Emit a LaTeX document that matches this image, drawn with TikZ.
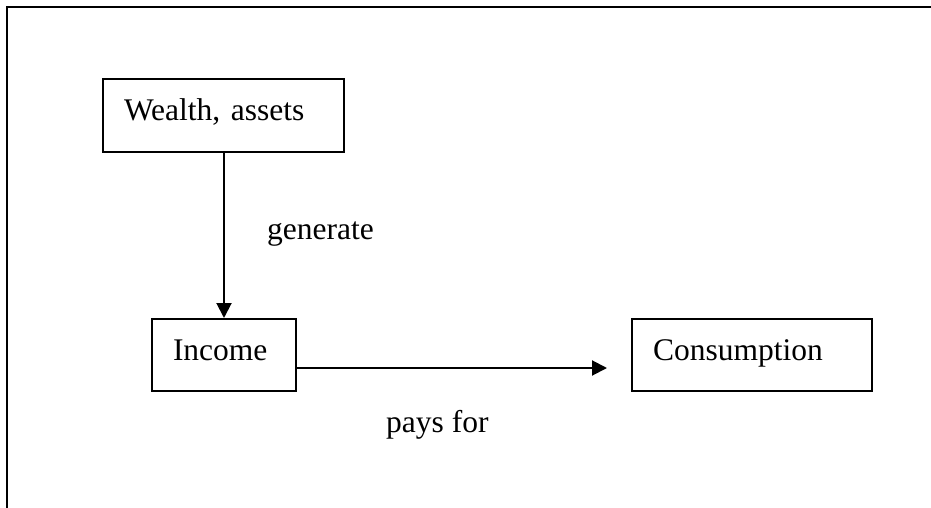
\documentclass[tikz,border=0pt]{standalone}
\usepackage{fontspec}
\setmainfont{Liberation Serif}
\usetikzlibrary{arrows.meta}
\begin{document}
\begin{tikzpicture}[x=1pt,y=-1pt,
  every node/.style={font=\fontsize{31.5}{38}\selectfont},
  box/.style={draw, line width=2pt, anchor=west, inner xsep=21pt, inner ysep=0pt,
    align=left, text height=22pt, text depth=12pt},
  lbl/.style={inner sep=0pt, anchor=base west},
  conn/.style={line width=2pt, -{Triangle[length=15pt,width=15pt]}}]
\useasboundingbox (0,0) rectangle (931,508);
% frame
\draw[line width=2pt] (7,508) -- (7,7) -- (931,7);
% boxes
\node[box, text width=199pt, minimum height=73pt] (wealth) at (102,115.5) {Wealth, assets};
\node[box, text width=102pt, minimum height=72pt] (income) at (151,355) {Income};
\node[box, text width=198pt, minimum height=72pt] (cons) at (631,355) {Consumption};
% labels
\node[lbl] (gen) at (267,239) {generate};
\node[lbl] (pays) at (386,432) {pays for};
% connectors
\coordinate (istart) at ([yshift=-13pt]income.east);
\coordinate (iend) at ([xshift=-24pt]cons.west |- istart);
\draw[conn] ([xshift=0.5pt]wealth.south) -- ([xshift=0.5pt]wealth.south |- income.north);
\draw[conn] (istart) -- (iend);
\end{tikzpicture}
\end{document}
